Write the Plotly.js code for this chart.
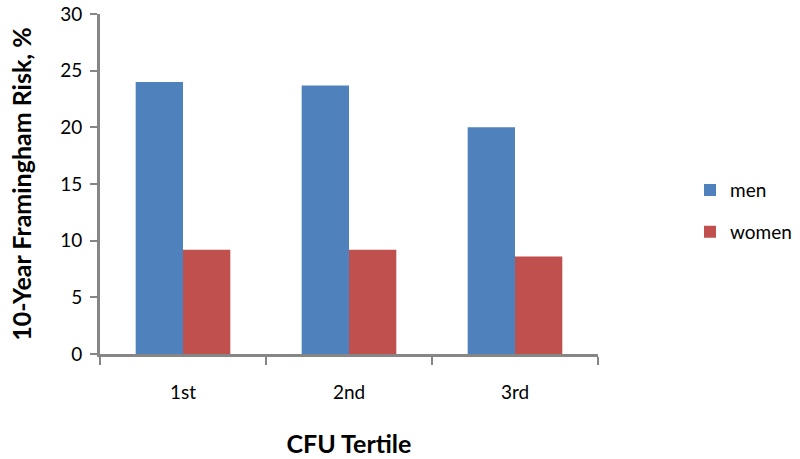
<!DOCTYPE html>
<html>
<head>
<meta charset="utf-8">
<script src="https://cdn.plot.ly/plotly-3.0.1.min.js"></script>
<style>
    html, body { margin: 0; padding: 0; background: #fff; }
    #chart { width: 800px; height: 459px; }
</style>
</head>
<body>
<div id="chart"></div>
<script>
    var tertiles = ['1st', '2nd', '3rd'];
    var menRisk = [24.0, 23.7, 20.0];
    var womenRisk = [9.2, 9.2, 8.6];

    var axisGrey = '#868686';
    var font = 'Lato, "Open Sans", sans-serif';

    var men = {
        x: tertiles,
        y: menRisk,
        type: 'bar',
        name: 'men',
        legendgroup: 'm',
        marker: { color: '#4f81bd' }
    };
    var women = {
        x: tertiles,
        y: womenRisk,
        type: 'bar',
        name: 'women',
        legendgroup: 'w',
        marker: { color: '#c0504d' }
    };

    var layout = {
        width: 800,
        height: 459,
        margin: { l: 100, r: 202, t: 14, b: 105 },
        paper_bgcolor: '#fff',
        plot_bgcolor: '#fff',
        font: { family: font, color: '#000' },
        barmode: 'group',
        bargap: 0.43,
        bargroupgap: 0,
        hovermode: false,
        showlegend: true,
        legend: {
            xref: 'container', yref: 'container',
            x: 0.8625, y: 0.54, xanchor: 'left', yanchor: 'middle',
            font: { size: 19, family: font },
            tracegroupgap: 14,
            itemwidth: 30
        },
        xaxis: {
            title: { text: 'CFU Tertile', font: { size: 25, family: font, weight: 'bold' }, standoff: 34 },
            tickson: 'boundaries',
            ticks: 'outside', ticklen: 8, tickwidth: 2, tickcolor: axisGrey,
            showline: true, linecolor: axisGrey, linewidth: 3,
            showgrid: false, zeroline: false,
            tickfont: { size: 19, family: font },
            ticklabelstandoff: 19
        },
        yaxis: {
            title: { text: '10-Year Framingham Risk, %', font: { size: 25, family: font, weight: 'bold' }, standoff: 22 },
            range: [0, 30],
            dtick: 5,
            ticks: 'outside', ticklen: 7, tickwidth: 2, tickcolor: axisGrey,
            showline: true, linecolor: axisGrey, linewidth: 3,
            showgrid: false, zeroline: false,
            tickfont: { size: 19, family: font },
            ticklabelstandoff: 4
        }
    };

    Plotly.newPlot('chart', [men, women], layout, { displayModeBar: false, staticPlot: true });
</script>
</body>
</html>
